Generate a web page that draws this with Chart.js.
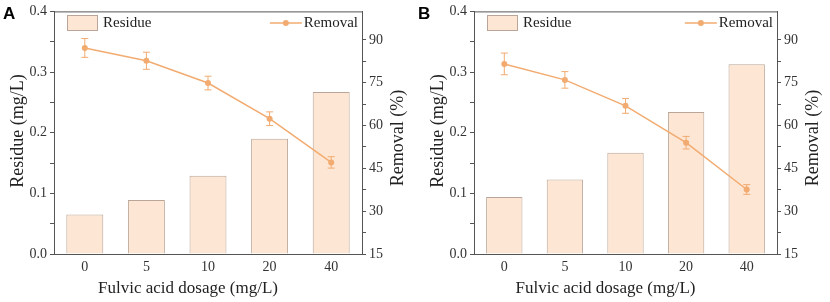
<!DOCTYPE html>
<html>
<head>
<meta charset="utf-8">
<script src="https://cdn.jsdelivr.net/npm/chart.js@4.4.0/dist/chart.umd.min.js"></script>
<style>
  html, body { margin: 0; padding: 0; background: #fff; }
  #wrap { position: relative; width: 830px; height: 302px; }
  canvas { position: absolute; top: 0; }
</style>
</head>
<body>
<div id="wrap">
  <canvas id="chartA" style="left:0px"></canvas>
  <canvas id="chartB" style="left:415px"></canvas>
</div>
<script>
const dosages = ["0", "5", "10", "20", "40"];

// panel A
const residueA = [0.065, 0.089, 0.129, 0.19, 0.267];
const removalA = [87.2, 82.7, 74.9, 62.4, 47.1];
const removalErrA = [3.3, 3.0, 2.4, 2.4, 2.0];

// panel B
const residueB = [0.094, 0.123, 0.167, 0.234, 0.313];
const removalB = [81.6, 76.0, 66.9, 54.0, 37.6];
const removalErrB = [3.8, 2.9, 2.6, 2.2, 1.7];

const xTitle = "Fulvic acid dosage (mg/L)";
const yTitle = "Residue (mg/L)";
const y1Title = "Removal (%)";

const serif = "'Liberation Serif', 'DejaVu Serif', serif";
const barFill = "#fde6d3";
const barEdge = "#b9a698";
const orange = "#f2ab70";
const axisColor = "#555";

// error bars for the removal line
const errorBars = {
  id: "errorBars",
  afterDatasetsDraw(chart, args, opts) {
    const ctx = chart.ctx;
    const y = chart.scales.y1;
    const meta = chart.getDatasetMeta(1);
    ctx.save();
    ctx.strokeStyle = orange;
    ctx.lineWidth = 1;
    meta.data.forEach((pt, i) => {
      const v = chart.data.datasets[1].data[i];
      const e = opts.errors[i];
      const top = y.getPixelForValue(v + e);
      const bot = y.getPixelForValue(v - e);
      ctx.beginPath();
      ctx.moveTo(pt.x, top); ctx.lineTo(pt.x, bot);
      ctx.moveTo(pt.x - 3.5, top); ctx.lineTo(pt.x + 3.5, top);
      ctx.moveTo(pt.x - 3.5, bot); ctx.lineTo(pt.x + 3.5, bot);
      ctx.stroke();
    });
    ctx.restore();
  },
};

// frame top line, legend, axis titles and panel letter
const decor = {
  id: "decor",
  afterDraw(chart, args, opts) {
    const ctx = chart.ctx;
    const a = chart.chartArea;
    ctx.save();
    ctx.strokeStyle = axisColor;
    ctx.lineWidth = 1;
    ctx.beginPath();
    ctx.moveTo(a.left, a.top + 0.5);
    ctx.lineTo(a.right, a.top + 0.5);
    ctx.stroke();

    // legend: Residue
    const bx = a.left + 13, by = 15;
    ctx.fillStyle = barFill;
    ctx.fillRect(bx, by, 30, 15);
    ctx.strokeStyle = barEdge;
    ctx.strokeRect(bx + 0.5, by + 0.5, 30, 15);
    ctx.fillStyle = "#222";
    ctx.font = "15px " + serif;
    ctx.textBaseline = "middle";
    ctx.textAlign = "left";
    ctx.fillText(chart.data.datasets[0].label, bx + 36, by + 8);

    // legend: Removal
    ctx.textAlign = "right";
    const tx = a.right - 4;
    const w = ctx.measureText(chart.data.datasets[1].label).width;
    ctx.fillText(chart.data.datasets[1].label, tx, by + 8);
    const lx2 = tx - w - 2, lx1 = lx2 - 32;
    ctx.strokeStyle = orange;
    ctx.lineWidth = 1.5;
    ctx.beginPath();
    ctx.moveTo(lx1, by + 8); ctx.lineTo(lx2, by + 8);
    ctx.stroke();
    ctx.fillStyle = orange;
    ctx.beginPath();
    ctx.arc((lx1 + lx2) / 2, by + 8, 3, 0, Math.PI * 2);
    ctx.fill();

    // axis titles
    ctx.fillStyle = "#222";
    ctx.font = "17px " + serif;
    ctx.textAlign = "center";
    ctx.textBaseline = "middle";
    ctx.fillText(xTitle, (a.left + a.right) / 2 - 20, 289);

    ctx.font = "18px " + serif;
    ctx.save();
    ctx.translate(a.left - 36, 131);
    ctx.rotate(-Math.PI / 2);
    ctx.fillText(yTitle, 0, 0);
    ctx.restore();

    ctx.save();
    ctx.translate(a.right + 36, 138);
    ctx.rotate(-Math.PI / 2);
    ctx.fillText(y1Title, 0, 0);
    ctx.restore();

    // panel letter
    ctx.fillStyle = "#000";
    ctx.font = "bold 17px 'Liberation Sans', Arial, sans-serif";
    ctx.textAlign = "left";
    ctx.textBaseline = "top";
    ctx.fillText(opts.letter, 3, 6);
    ctx.restore();
  },
};

function makeChart(id, residue, removal, errs, letter, leftW) {
  const el = document.getElementById(id);
  el.width = 415;
  el.height = 302;
  return new Chart(el.getContext("2d"), {
    data: {
      labels: dosages,
      datasets: [
        {
          type: "bar",
          label: "Residue",
          data: residue,
          yAxisID: "y",
          backgroundColor: barFill,
          borderColor: barEdge,
          borderWidth: 1,
          categoryPercentage: 1,
          barPercentage: 0.6,
          order: 2,
        },
        {
          type: "line",
          label: "Removal",
          data: removal,
          yAxisID: "y1",
          borderColor: orange,
          backgroundColor: orange,
          borderWidth: 1.5,
          pointRadius: 3,
          pointBorderWidth: 0,
          tension: 0,
          order: 1,
        },
      ],
    },
    options: {
      responsive: false,
      animation: false,
      layout: { padding: { top: 8, left: 0, right: 0, bottom: 0 } },
      plugins: {
        legend: { display: false },
        tooltip: { enabled: false },
        errorBars: { errors: errs },
        decor: { letter: letter },
      },
      scales: {
        x: {
          grid: { display: false, drawTicks: false },
          border: { color: axisColor },
          ticks: { color: "#333", font: { family: serif, size: 14 }, padding: 5 },
          afterFit(s) { s.height = 48; },
        },
        y: {
          position: "left",
          min: 0,
          max: 0.4,
          ticks: {
            stepSize: 0.05,
            color: "#333",
            font: { family: serif, size: 14 },
            padding: 3,
            callback(v) {
              return Math.round(v * 100) % 10 === 0 ? v.toFixed(1) : "";
            },
          },
          grid: { drawOnChartArea: false, tickLength: 4, tickColor: axisColor },
          border: { color: axisColor },
          afterFit(s) { s.width = leftW; },
        },
        y1: {
          position: "right",
          min: 15,
          max: 100,
          ticks: {
            stepSize: 7.5,
            color: "#333",
            font: { family: serif, size: 14 },
            padding: 3,
            callback(v) {
              return v % 15 === 0 ? String(v) : "";
            },
          },
          grid: {
            drawOnChartArea: false,
            tickLength: 4,
            tickColor: (c) => (c.tick && c.tick.value === 100 ? "rgba(0,0,0,0)" : axisColor),
          },
          border: { color: axisColor },
          afterFit(s) { s.width = 53; },
        },
      },
    },
    plugins: [errorBars, decor],
  });
}

makeChart("chartA", residueA, removalA, removalErrA, "A", 54);
makeChart("chartB", residueB, removalB, removalErrB, "B", 59);
</script>
</body>
</html>
